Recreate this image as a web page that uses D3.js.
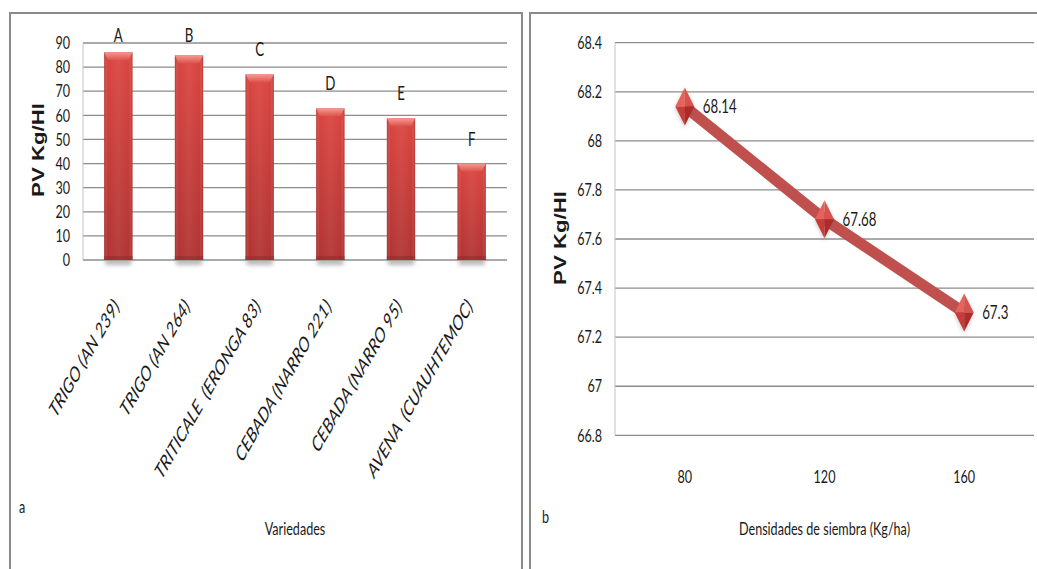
<!DOCTYPE html>
<html>
<head>
<meta charset="utf-8">
<script src="https://cdn.jsdelivr.net/npm/d3@7"></script>
<style>
  html, body { margin: 0; padding: 0; background: #fff; }
  svg { display: block; }
  text { font-family: Lato, "Open Sans", sans-serif; fill: #1a1a1a; white-space: pre; }
</style>
</head>
<body>
<svg id="chart" width="1037" height="569"></svg>
<script>
// Panel a: test weight by variety
const varieties = ["TRIGO (AN 239)", "TRIGO (AN 264)", "TRITICALE  (ERONGA 83)",
                   "CEBADA (NARRO 221)", "CEBADA (NARRO 95)", "AVENA  (CUAUHTEMOC)"];
const pvVariety = [86.2, 84.9, 77.0, 62.9, 58.8, 40.0];
const groupLetters = ["A", "B", "C", "D", "E", "F"];
const yTicksA = [0, 10, 20, 30, 40, 50, 60, 70, 80, 90];

// Panel b: test weight by sowing density
const densities = ["80", "120", "160"];
const pvDensity = [68.14, 67.68, 67.3];
const yTicksB = [66.8, 67, 67.2, 67.4, 67.6, 67.8, 68, 68.2, 68.4];

const K = 0.7;            // horizontal squeeze applied to all lettering
const GRID = "#8c8c8c";

const svg = d3.select("#chart");
const defs = svg.append("defs");

// ---- gradients / filters ----
const gBody = defs.append("linearGradient").attr("id", "barBody")
  .attr("x1", 0).attr("y1", 0).attr("x2", 0).attr("y2", 1);
gBody.append("stop").attr("offset", "0%").attr("stop-color", "#db4540");
gBody.append("stop").attr("offset", "100%").attr("stop-color", "#b03433");

const gSide = defs.append("linearGradient").attr("id", "barSide")
  .attr("x1", 0).attr("y1", 0).attr("x2", 1).attr("y2", 0);
gSide.append("stop").attr("offset", "0%").attr("stop-color", "#7a1010").attr("stop-opacity", 0.35);
gSide.append("stop").attr("offset", "12%").attr("stop-color", "#ffffff").attr("stop-opacity", 0.0);
gSide.append("stop").attr("offset", "50%").attr("stop-color", "#ffffff").attr("stop-opacity", 0.06);
gSide.append("stop").attr("offset", "88%").attr("stop-color", "#ffffff").attr("stop-opacity", 0.0);
gSide.append("stop").attr("offset", "100%").attr("stop-color", "#7a1010").attr("stop-opacity", 0.35);

const gTop = defs.append("linearGradient").attr("id", "barTop")
  .attr("x1", 0).attr("y1", 0).attr("x2", 0).attr("y2", 1);
gTop.append("stop").attr("offset", "0%").attr("stop-color", "#f59a94");
gTop.append("stop").attr("offset", "100%").attr("stop-color", "#df514b");

const blur = defs.append("filter").attr("id", "soft")
  .attr("x", "-50%").attr("y", "-50%").attr("width", "200%").attr("height", "200%");
blur.append("feGaussianBlur").attr("stdDeviation", 2);

// ---- panel frames ----
svg.append("rect").attr("x", 10).attr("y", 13).attr("width", 512).attr("height", 600)
  .attr("fill", "none").attr("stroke", "#8a8a8a").attr("stroke-width", 2);
svg.append("rect").attr("x", 530).attr("y", 13).attr("width", 600).attr("height", 600)
  .attr("fill", "none").attr("stroke", "#8a8a8a").attr("stroke-width", 2);

function squeezed(g, x, y, str, size, anchor) {
  return g.append("text")
    .attr("transform", `translate(${x},${y}) scale(${K},1)`)
    .attr("text-anchor", anchor || "middle")
    .style("font-size", size + "px")
    .text(str);
}

function styleLeftAxis(g) {
  g.select(".domain").remove();
  g.selectAll(".tick line").remove();
  g.selectAll(".tick text")
    .attr("x", null)
    .attr("transform", `translate(-13,0) scale(${K},1)`)
    .attr("text-anchor", "end")
    .attr("fill", "#1a1a1a")
    .style("font-size", "18px")
    .style("font-family", "Lato, 'Open Sans', sans-serif");
}

// =================== Panel a ===================
const A = { left: 83, right: 507, top: 43, bottom: 260 };
const xA = d3.scaleBand().domain(varieties).range([A.left, A.right]).paddingInner(0.6).paddingOuter(0.3);
const yA = d3.scaleLinear().domain([0, 90]).range([A.bottom, A.top]);

const pa = svg.append("g");

pa.append("g").selectAll("line").data(yTicksA).join("line")
  .attr("x1", A.left).attr("x2", A.right)
  .attr("y1", d => yA(d)).attr("y2", d => yA(d))
  .attr("stroke", GRID).attr("stroke-width", 1.3);
pa.append("line").attr("x1", A.left).attr("x2", A.left)
  .attr("y1", A.top).attr("y2", A.bottom).attr("stroke", "#c4c4c4");

pa.append("g").attr("transform", `translate(${A.left},0)`)
  .call(d3.axisLeft(yA).tickValues(yTicksA).tickFormat(d3.format("d")).tickSize(0))
  .call(styleLeftAxis);

const bw = xA.bandwidth();
const barData = varieties.map((v, i) => ({ v, val: pvVariety[i], letter: groupLetters[i] }));

// soft shadow beneath each bar
pa.append("g").selectAll("rect").data(barData).join("rect")
  .attr("x", d => xA(d.v) + 1).attr("width", bw - 2)
  .attr("y", A.bottom - 2).attr("height", 7)
  .attr("fill", "#9a9a9a").attr("opacity", 0.7).attr("filter", "url(#soft)");

const bars = pa.append("g").selectAll("g").data(barData).join("g");
bars.append("rect")
  .attr("x", d => xA(d.v)).attr("width", bw)
  .attr("y", d => yA(d.val)).attr("height", d => yA(0) - yA(d.val))
  .attr("fill", "url(#barBody)");
bars.append("rect")
  .attr("x", d => xA(d.v)).attr("width", bw)
  .attr("y", d => yA(d.val)).attr("height", d => yA(0) - yA(d.val))
  .attr("fill", "url(#barSide)");
bars.append("path")
  .attr("d", d => {
    const x0 = xA(d.v), y0 = yA(d.val);
    return `M${x0},${y0}H${x0 + bw}L${x0 + bw - 4},${y0 + 8}H${x0 + 4}Z`;
  })
  .attr("fill", "url(#barTop)");
bars.append("rect")
  .attr("x", d => xA(d.v)).attr("width", bw)
  .attr("y", A.bottom - 4).attr("height", 4)
  .attr("fill", "#8e2a2a").attr("opacity", 0.5);

// significance letters
barData.forEach(d => {
  const yl = Math.max(yA(d.val) - 18, A.top - 1);
  squeezed(pa, xA(d.v) + bw / 2, yl, d.letter, 19, "middle");
});

// rotated category labels
barData.forEach(d => {
  pa.append("text")
    .attr("transform", `translate(${xA(d.v) + bw / 2 + 2},307) scale(${K},1) rotate(-50.5)`)
    .attr("text-anchor", "end")
    .style("font-size", "21px")
    .style("font-style", "italic")
    .text(d.v);
});

squeezed(pa, 19, 513, "a", 18, "start");
squeezed(pa, (A.left + A.right) / 2, 535, "Variedades", 18, "middle");

pa.append("text")
  .attr("transform", `translate(44,150) rotate(-90) scale(1.39,1)`)
  .attr("text-anchor", "middle")
  .style("font-family", "'Liberation Sans', Arial, sans-serif")
  .style("font-weight", "bold")
  .style("font-size", "16px")
  .text("PV Kg/Hl");

// =================== Panel b ===================
const B = { left: 615, right: 1034, top: 42.7, bottom: 435.3 };
const xB = d3.scalePoint().domain(densities).range([B.left, B.right]).padding(0.5);
const yB = d3.scaleLinear().domain([66.8, 68.4]).range([B.bottom, B.top]);

const pb = svg.append("g");

pb.append("g").selectAll("line").data(yTicksB).join("line")
  .attr("x1", B.left).attr("x2", B.right)
  .attr("y1", d => yB(d)).attr("y2", d => yB(d))
  .attr("stroke", GRID).attr("stroke-width", 1.3);
pb.append("line").attr("x1", B.left).attr("x2", B.left)
  .attr("y1", B.top).attr("y2", B.bottom).attr("stroke", "#c4c4c4");

pb.append("g").attr("transform", `translate(${B.left},0)`)
  .call(d3.axisLeft(yB).tickValues(yTicksB).tickFormat(d => String(+d.toFixed(1))).tickSize(0))
  .call(styleLeftAxis);

densities.forEach(d => squeezed(pb, xB(d), 483, d, 18, "middle"));

const ptData = densities.map((d, i) => ({ d, val: pvDensity[i] }));

pb.append("path")
  .datum(ptData)
  .attr("d", d3.line().x(p => xB(p.d)).y(p => yB(p.val)))
  .attr("fill", "none")
  .attr("stroke", "#c0504d")
  .attr("stroke-width", 11)
  .attr("stroke-linejoin", "round");

// faceted diamond markers
const hw = 9.5, hh = 19;
const marks = pb.append("g").selectAll("g").data(ptData).join("g")
  .attr("transform", p => `translate(${xB(p.d)},${yB(p.val)})`);
marks.append("path").attr("d", `M0,${-hh + 2}L${hw},2L0,${hh + 2}L${-hw},2Z`)
  .attr("fill", "#666").attr("opacity", 0.35).attr("filter", "url(#soft)");
marks.append("path").attr("d", `M0,${-hh}L0,0L${-hw},0Z`).attr("fill", "#e8625c");
marks.append("path").attr("d", `M0,${-hh}L${hw},0L0,0Z`).attr("fill", "#d8514b");
marks.append("path").attr("d", `M${-hw},0L0,0L0,${hh}Z`).attr("fill", "#c73c38");
marks.append("path").attr("d", `M0,0L${hw},0L0,${hh}Z`).attr("fill", "#ad2c2a");

ptData.forEach(p => {
  squeezed(pb, xB(p.d) + 18, yB(p.val), String(p.val), 19, "start").attr("dy", "0.36em");
});

squeezed(pb, 542, 523, "b", 18, "start");
squeezed(pb, (B.left + B.right) / 2, 535, "Densidades de siembra (Kg/ha)", 18, "middle");

pb.append("text")
  .attr("transform", `translate(566,238) rotate(-90) scale(1.39,1)`)
  .attr("text-anchor", "middle")
  .style("font-family", "'Liberation Sans', Arial, sans-serif")
  .style("font-weight", "bold")
  .style("font-size", "16px")
  .text("PV Kg/Hl");
</script>
</body>
</html>
